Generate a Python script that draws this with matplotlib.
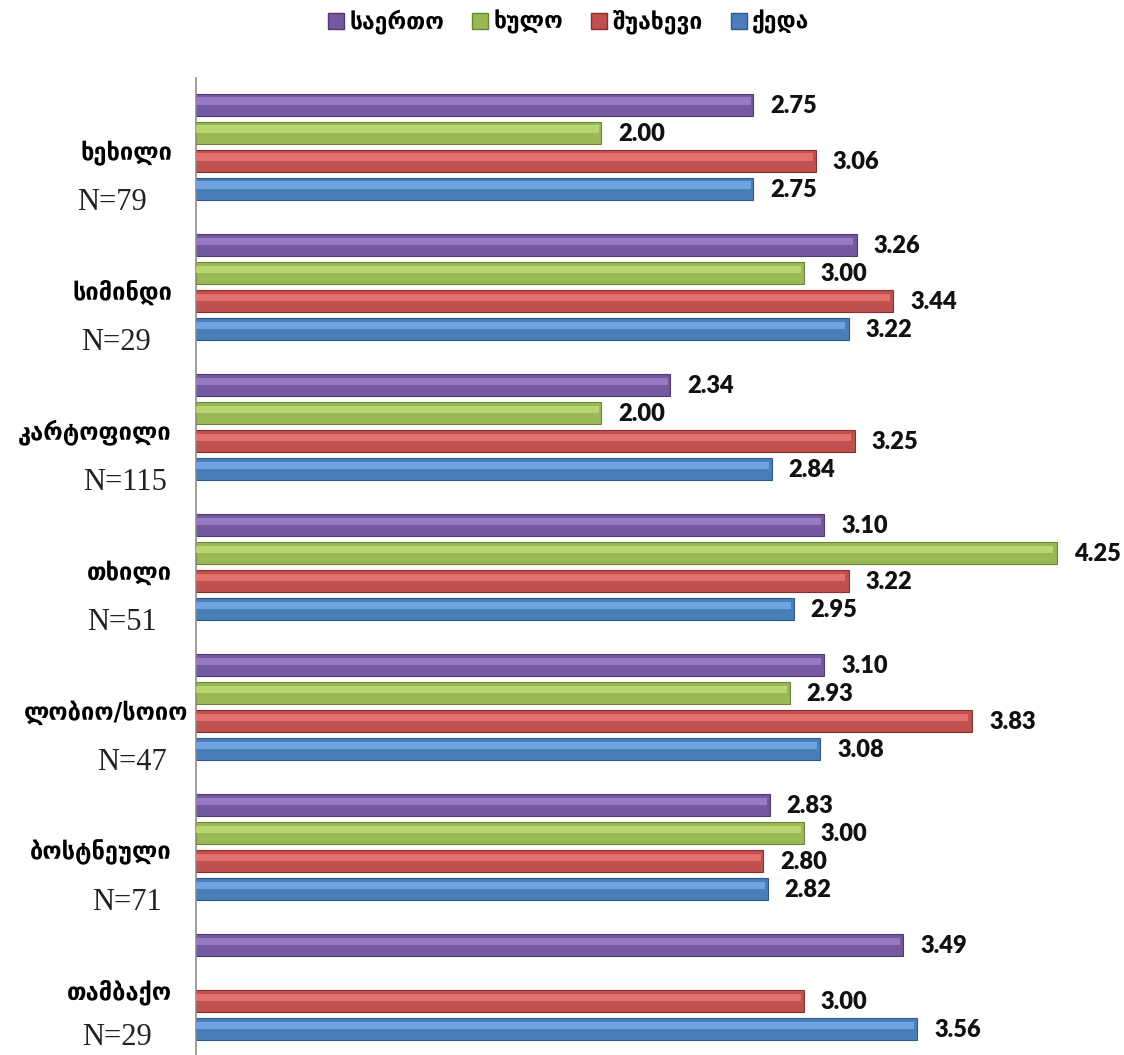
import numpy as np
import matplotlib
matplotlib.use("Agg")
import matplotlib.pyplot as plt
from matplotlib.patches import Patch

categories = ["ხეხილი", "სიმინდი", "კარტოფილი", "თხილი", "ლობიო/სოიო", "ბოსტნეული", "თამბაქო"]
n_labels = ["N=79", "N=29", "N=115", "N=51", "N=47", "N=71", "N=29"]
series_names = ["საერთო", "ხულო", "შუახევი", "ქედა"]
saerto = [2.75, 3.26, 2.34, 3.10, 3.10, 2.83, 3.49]
khulo = [2.00, 3.00, 2.00, 4.25, 2.93, 3.00, np.nan]
shuakhevi = [3.06, 3.44, 3.25, 3.22, 3.83, 2.80, 3.00]
keda = [2.75, 3.22, 2.84, 2.95, 3.08, 2.82, 3.56]

series = [saerto, khulo, shuakhevi, keda]
base_colors = ["#7458A0", "#98B954", "#C0504D", "#4A7EBB"]
light_colors = ["#A286CF", "#C4E27E", "#F07C78", "#7EB2EE"]
edge_colors = ["#4E3A70", "#6A8535", "#8A2F2D", "#2D5A8E"]

W, H = 1124, 1055
fig = plt.figure(figsize=(W / 100, H / 100), dpi=100)
ax_left = 196 / W
ax_right = 1108 / W
ax_top = 1 - 78 / H
ax = fig.add_axes([ax_left, 0, ax_right - ax_left, ax_top])
ax.set_xlim(0, 4.5)
ax.set_ylim(33.93, -0.96)
PX = 202.7  # pixels per data unit in x

bar_h = 0.8
for s, vals in enumerate(series):
    for g, v in enumerate(vals):
        if np.isnan(v):
            continue
        y = g * 5 + s
        ax.barh(y, v, height=bar_h, color=base_colors[s], edgecolor=edge_colors[s],
                linewidth=0.8, zorder=2)
        ax.barh(y - bar_h * 0.16, v * 0.995, height=bar_h * 0.34, color=light_colors[s],
                linewidth=0, zorder=3, alpha=0.75)
        ax.text(v + 0.083, y + 0.05, f"{v:.2f}", ha="left", va="center",
                fontsize=17, fontweight="heavy", family="Lato", color="#111111", zorder=4)

for sp in ["top", "right", "bottom"]:
    ax.spines[sp].set_visible(False)
ax.spines["left"].set_color("#8C8C8C")
ax.spines["left"].set_linewidth(1.2)
ax.set_xticks([])
ax.set_yticks([])

# category labels
n_x_px = [112, 116, 125, 122, 132, 127, 117]
name_right_px = [172, 172, 172, 172, 188, 172, 172]
for g, (name, nl) in enumerate(zip(categories, n_labels)):
    yname = g * 5 + 1.7
    yn = g * 5 + (3.5 if g < 6 else 3.3)
    ax.text((name_right_px[g] - 196) / PX, yname, name, ha="right", va="center",
            fontsize=17, fontweight="bold", family="DejaVu Sans", color="black",
            clip_on=False)
    ax.text((n_x_px[g] - 196) / PX, yn, nl, ha="center", va="center",
            fontsize=22, family="Liberation Serif", color="#222222", clip_on=False)

handles = [Patch(facecolor=base_colors[i], edgecolor=edge_colors[i], label=series_names[i])
           for i in range(4)]
leg = fig.legend(handles=handles, loc="center", bbox_to_anchor=(0.506, 1 - 22 / H), ncol=4,
                 frameon=False, prop={"family": "DejaVu Sans", "weight": "bold", "size": 16.5},
                 handlelength=0.7, handleheight=0.7, handletextpad=0.25, columnspacing=1.2)

fig.savefig("out.png", dpi=100, facecolor="white")
